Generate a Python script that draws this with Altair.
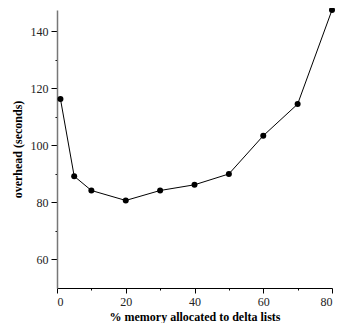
import altair as alt
import pandas as pd

pct = [1, 5, 10, 20, 30, 40, 50, 60, 70, 80]
overhead = [116.3, 89.2, 84.2, 80.7, 84.2, 86.2, 90.0, 103.4, 114.5, 147.5]
x_ticks = [0, 10, 20, 30, 40, 50, 60, 70, 80]
y_ticks = [60, 70, 80, 90, 100, 110, 120, 130, 140]

df = pd.DataFrame({"pct": pct, "overhead": overhead})

FONT = "Liberation Serif"

x = alt.X("pct:Q", scale=alt.Scale(domain=[0, 80], nice=False, zero=False),
          axis=alt.Axis(values=x_ticks, title="% memory allocated to delta lists",
                        labelExpr="datum.value % 20 === 0 ? datum.label : ''",
                        tickSize={"condition": {"test": "datum.value % 20 === 0", "value": 5}, "value": 2},
                        domainColor="black", tickColor="black", grid=False,
                        labelFont=FONT, labelFontSize=12, labelColor="#222",
                        titleFont=FONT, titleFontSize=12, titleFontWeight="bold",
                        titleColor="black", labelPadding=3, titlePadding=4))
y = alt.Y("overhead:Q", scale=alt.Scale(domain=[50, 147.5], nice=False, zero=False),
          axis=alt.Axis(values=y_ticks, title="overhead (seconds)",
                        labelExpr="datum.value % 20 === 0 ? datum.label : ''",
                        tickSize={"condition": {"test": "datum.value % 20 === 0", "value": 6}, "value": 2},
                        domainColor="#777", domainWidth=1.5, tickColor="black", grid=False,
                        labelFont=FONT, labelFontSize=12, labelColor="#222",
                        titleFont=FONT, titleFontSize=12, titleFontWeight="bold",
                        titleColor="black", labelPadding=3, titlePadding=6))

line = alt.Chart(df).mark_line(color="black", strokeWidth=1).encode(x=x, y=y)
pts = alt.Chart(df).mark_circle(color="black", size=36, opacity=1).encode(x=x, y=y)

chart = (line + pts).properties(
    width=275, height=278,
    autosize=alt.AutoSizeParams(type="none"),
    padding={"left": 49, "top": 2, "right": 6, "bottom": 35},
).configure_view(stroke=None)

chart.save("out.html", embed_options={"renderer": "svg", "actions": False})
